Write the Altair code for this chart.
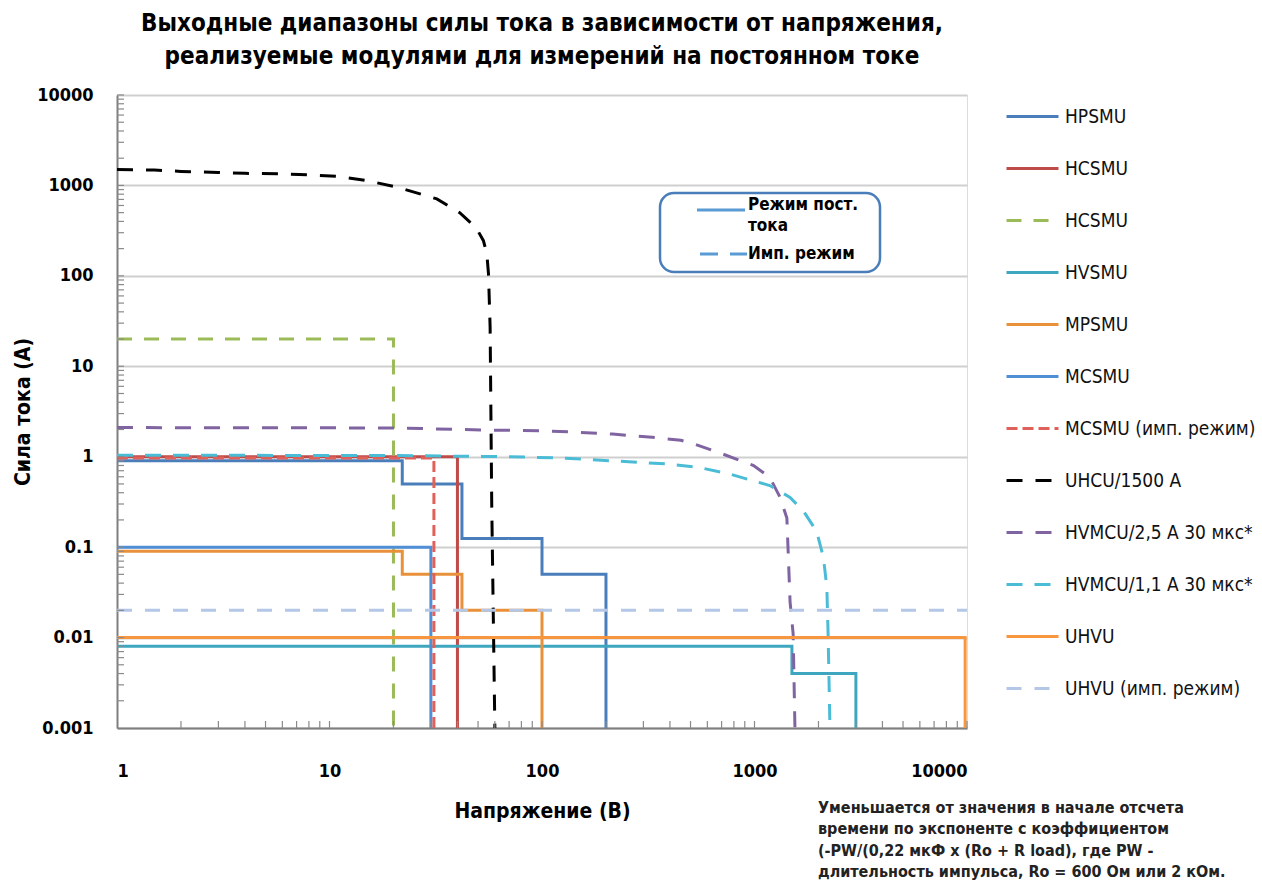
import altair as alt
import pandas as pd

FONT = "'Liberation Sans Narrow', 'DejaVu Sans Condensed', sans-serif"

# Output ranges of each module: corner points (voltage in V, current in A)
hpsmu_v = [1, 22, 22, 42, 42, 100, 100, 200, 200]
hpsmu_i = [0.9, 0.9, 0.5, 0.5, 0.125, 0.125, 0.05, 0.05, 0.001]

hcsmu_v = [1, 40, 40]
hcsmu_i = [1.0, 1.0, 0.001]

hcsmu_pulse_v = [1, 20, 20]
hcsmu_pulse_i = [20, 20, 0.001]

hvsmu_v = [1, 1500, 1500, 3000, 3000]
hvsmu_i = [0.008, 0.008, 0.004, 0.004, 0.001]

mpsmu_v = [1, 22, 22, 42, 42, 100, 100]
mpsmu_i = [0.09, 0.09, 0.05, 0.05, 0.02, 0.02, 0.001]

mcsmu_v = [1, 30, 30]
mcsmu_i = [0.1, 0.1, 0.001]

mcsmu_pulse_v = [1, 31, 31]
mcsmu_pulse_i = [0.97, 0.97, 0.001]

uhcu_v = [1, 1.5, 2, 3, 4, 6, 8, 11, 15, 21, 32, 41, 49, 53, 55, 56, 57, 58, 60]
uhcu_i = [1500, 1480, 1430, 1390, 1360, 1340, 1310, 1260, 1130, 950, 710, 500,
          340, 245, 175, 105, 27, 0.3, 0.001]

hvmcu25_v = [1, 20, 57, 100, 150, 215, 330, 450, 520, 710, 990, 1180, 1320,
             1420, 1440, 1470, 1520, 1550]
hvmcu25_i = [2.1, 2.08, 1.97, 1.94, 1.86, 1.78, 1.64, 1.52, 1.38, 1.07, 0.8,
             0.59, 0.355, 0.21, 0.09, 0.025, 0.011, 0.001]

hvmcu11_v = [1, 20, 70, 120, 215, 390, 550, 770, 1180, 1470, 1700, 1960, 2110,
             2190, 2220, 2265]
hvmcu11_i = [1.04, 1.03, 1.0, 0.97, 0.9, 0.83, 0.76, 0.64, 0.48, 0.355, 0.25,
             0.15, 0.077, 0.036, 0.011, 0.001]

uhvu_v = [1, 9800, 9800]
uhvu_i = [0.01, 0.01, 0.001]

uhvu_pulse_v = [1, 10000]
uhvu_pulse_i = [0.02, 0.02]

# Legend names (the second HCSMU entry carries a trailing space to stay distinct)
names = ["HPSMU", "HCSMU", "HCSMU ", "HVSMU", "MPSMU", "MCSMU",
         "MCSMU (имп. режим)", "UHCU/1500 А", "HVMCU/2,5 А 30 мкс*",
         "HVMCU/1,1 А 30 мкс*", "UHVU", "UHVU (имп. режим)"]
colors = ["#4a7ebb", "#be4b48", "#9bbb59", "#3ea7bf", "#e8913a", "#4f8fd6",
          "#e0605a", "#000000", "#8064a2", "#4bbcd6", "#f7963f", "#b4c7e7"]
dashes = [[1, 0], [1, 0], [15, 12], [1, 0], [1, 0], [1, 0],
          [11, 5], [16, 13], [16, 13], [16, 12], [1, 0], [15, 13]]
widths = [3, 3, 3, 3, 3, 3, 3, 4.5, 3, 3, 3, 3]

curves = [(hpsmu_v, hpsmu_i), (hcsmu_v, hcsmu_i), (hcsmu_pulse_v, hcsmu_pulse_i),
          (hvsmu_v, hvsmu_i), (mpsmu_v, mpsmu_i), (mcsmu_v, mcsmu_i),
          (mcsmu_pulse_v, mcsmu_pulse_i), (uhcu_v, uhcu_i),
          (hvmcu25_v, hvmcu25_i), (hvmcu11_v, hvmcu11_i), (uhvu_v, uhvu_i),
          (uhvu_pulse_v, uhvu_pulse_i)]

rows = []
for name, (vs, cs) in zip(names, curves):
    for k, (v, c) in enumerate(zip(vs, cs)):
        rows.append({"module": name, "V": v, "I": c, "k": k})
df = pd.DataFrame(rows)

x_ticks = [1, 10, 100, 1000, 10000]
y_ticks = [0.001, 0.01, 0.1, 1, 10, 100, 1000, 10000]

W, H = 850, 633

x_scale = alt.Scale(type="log", domain=[1, 10000], nice=False)
y_scale = alt.Scale(type="log", domain=[0.001, 10000], nice=False)

x_axis = alt.Axis(values=x_ticks, labelExpr="toString(datum.value)", grid=False,
                  ticks=False, tickSize=0, labelPadding=34, labelFontSize=18,
                  labelFont=FONT, labelFontWeight="bold", labelColor="#000",
                  title="Напряжение (В)", titleFont=FONT, titleFontSize=21,
                  titleFontWeight="bold", titleColor="#000", titlePadding=20,
                  domainColor="#7f7f7f", domainWidth=2)
y_axis = alt.Axis(values=y_ticks, labelExpr="toString(datum.value)", grid=True,
                  gridColor="#cfcfcf", gridWidth=2, ticks=False, tickSize=0,
                  labelPadding=24, labelFontSize=18, labelFont=FONT,
                  labelFontWeight="bold", labelColor="#000",
                  title="Сила тока (А)", titleFont=FONT, titleFontSize=21,
                  titleFontWeight="bold", titleColor="#000", titlePadding=3,
                  domainColor="#7f7f7f", domainWidth=2)


def xenc(field="V"):
    return alt.X(f"{field}:Q", scale=x_scale, axis=x_axis)


def yenc(field="I"):
    return alt.Y(f"{field}:Q", scale=y_scale, axis=y_axis)


legend = alt.Legend(orient="none", legendX=888, legendY=-6, title=None,
                    symbolType="stroke", symbolSize=2704, symbolStrokeWidth=3,
                    labelFont=FONT, labelFontSize=19, labelFontWeight="normal",
                    labelColor="#111", labelOffset=5, rowPadding=14, padding=0,
                    labelLimit=300)

lines = alt.Chart(df).mark_line(strokeCap="butt", clip=True).encode(
    x=xenc(), y=yenc(),
    color=alt.Color("module:N", scale=alt.Scale(domain=names, range=colors),
                    legend=legend),
    strokeDash=alt.StrokeDash("module:N",
                              scale=alt.Scale(domain=names, range=dashes),
                              legend=legend),
    strokeWidth=alt.StrokeWidth("module:N",
                                scale=alt.Scale(domain=names, range=widths),
                                legend=None),
    order="k:Q",
)

# Minor log ticks drawn inside the frame
minor_y = pd.DataFrame({"I": [m * 10.0 ** d for d in range(-3, 4) for m in range(2, 11)]})
minor_x = pd.DataFrame({"V": [m * 10.0 ** d for d in range(0, 4) for m in range(2, 11)]})

ticks_y = alt.Chart(minor_y).mark_rule(color="#8a8a8a", strokeWidth=1.2).encode(
    y=yenc(), x=alt.value(0), x2=alt.value(7))
ticks_x = alt.Chart(minor_x).mark_rule(color="#8a8a8a", strokeWidth=1.2).encode(
    x=xenc(), y=alt.value(H), y2=alt.value(H - 7))

# Line-style key in a rounded box
one = pd.DataFrame({"a": [0]})
box = alt.Chart(one).mark_rect(cornerRadius=14, fill="white", stroke="#4a7ebb",
                               strokeWidth=2.5).encode(
    x=alt.value(543), x2=alt.value(763), y=alt.value(98), y2=alt.value(177))
key_solid = alt.Chart(one).mark_rule(color="#5b9bd5", strokeWidth=3).encode(
    x=alt.value(580), x2=alt.value(628), y=alt.value(115))
key_dash = alt.Chart(one).mark_rule(color="#5b9bd5", strokeWidth=3,
                                    strokeDash=[18, 12]).encode(
    x=alt.value(583), x2=alt.value(630), y=alt.value(159))
key_text = alt.Chart(pd.DataFrame({
    "t": ["Режим пост.", "тока", "Имп. режим"],
    "yy": [110, 131, 159],
})).mark_text(align="left", baseline="middle", font=FONT, fontSize=17,
              fontWeight="bold", color="#000").encode(
    x=alt.value(631), y=alt.Y("yy:Q", scale=None), text="t:N")

note = alt.Chart(one).mark_text(
    align="left", baseline="middle", font=FONT, fontSize=16, fontWeight="bold",
    color="#222", lineHeight=21.3,
    text=["Уменьшается от значения в начале отсчета",
          "времени по экспоненте с коэффициентом",
          "(-PW/(0,22 мкФ x (Ro + R load), где PW -",
          "длительность импульса, Ro = 600 Ом или 2 кОм."],
).encode(x=alt.value(701), y=alt.value(713))

chart = alt.layer(lines, ticks_y, ticks_x, box, key_solid, key_dash, key_text, note).properties(
    width=W, height=H,
    title=alt.Title(
        ["Выходные диапазоны силы тока в зависимости от напряжения,",
         "реализуемые модулями для измерений на постоянном токе"],
        font=FONT, fontSize=24, fontWeight="bold", color="#000",
        anchor="middle", offset=17, lineHeight=33),
    autosize=alt.AutoSizeParams(type="none"),
    padding={"left": 117, "top": 95, "right": 295, "bottom": 161},
).configure_view(stroke="#7f7f7f", strokeWidth=2).configure(background="white")

chart.save("out.html", embed_options={"renderer": "svg", "actions": False})
